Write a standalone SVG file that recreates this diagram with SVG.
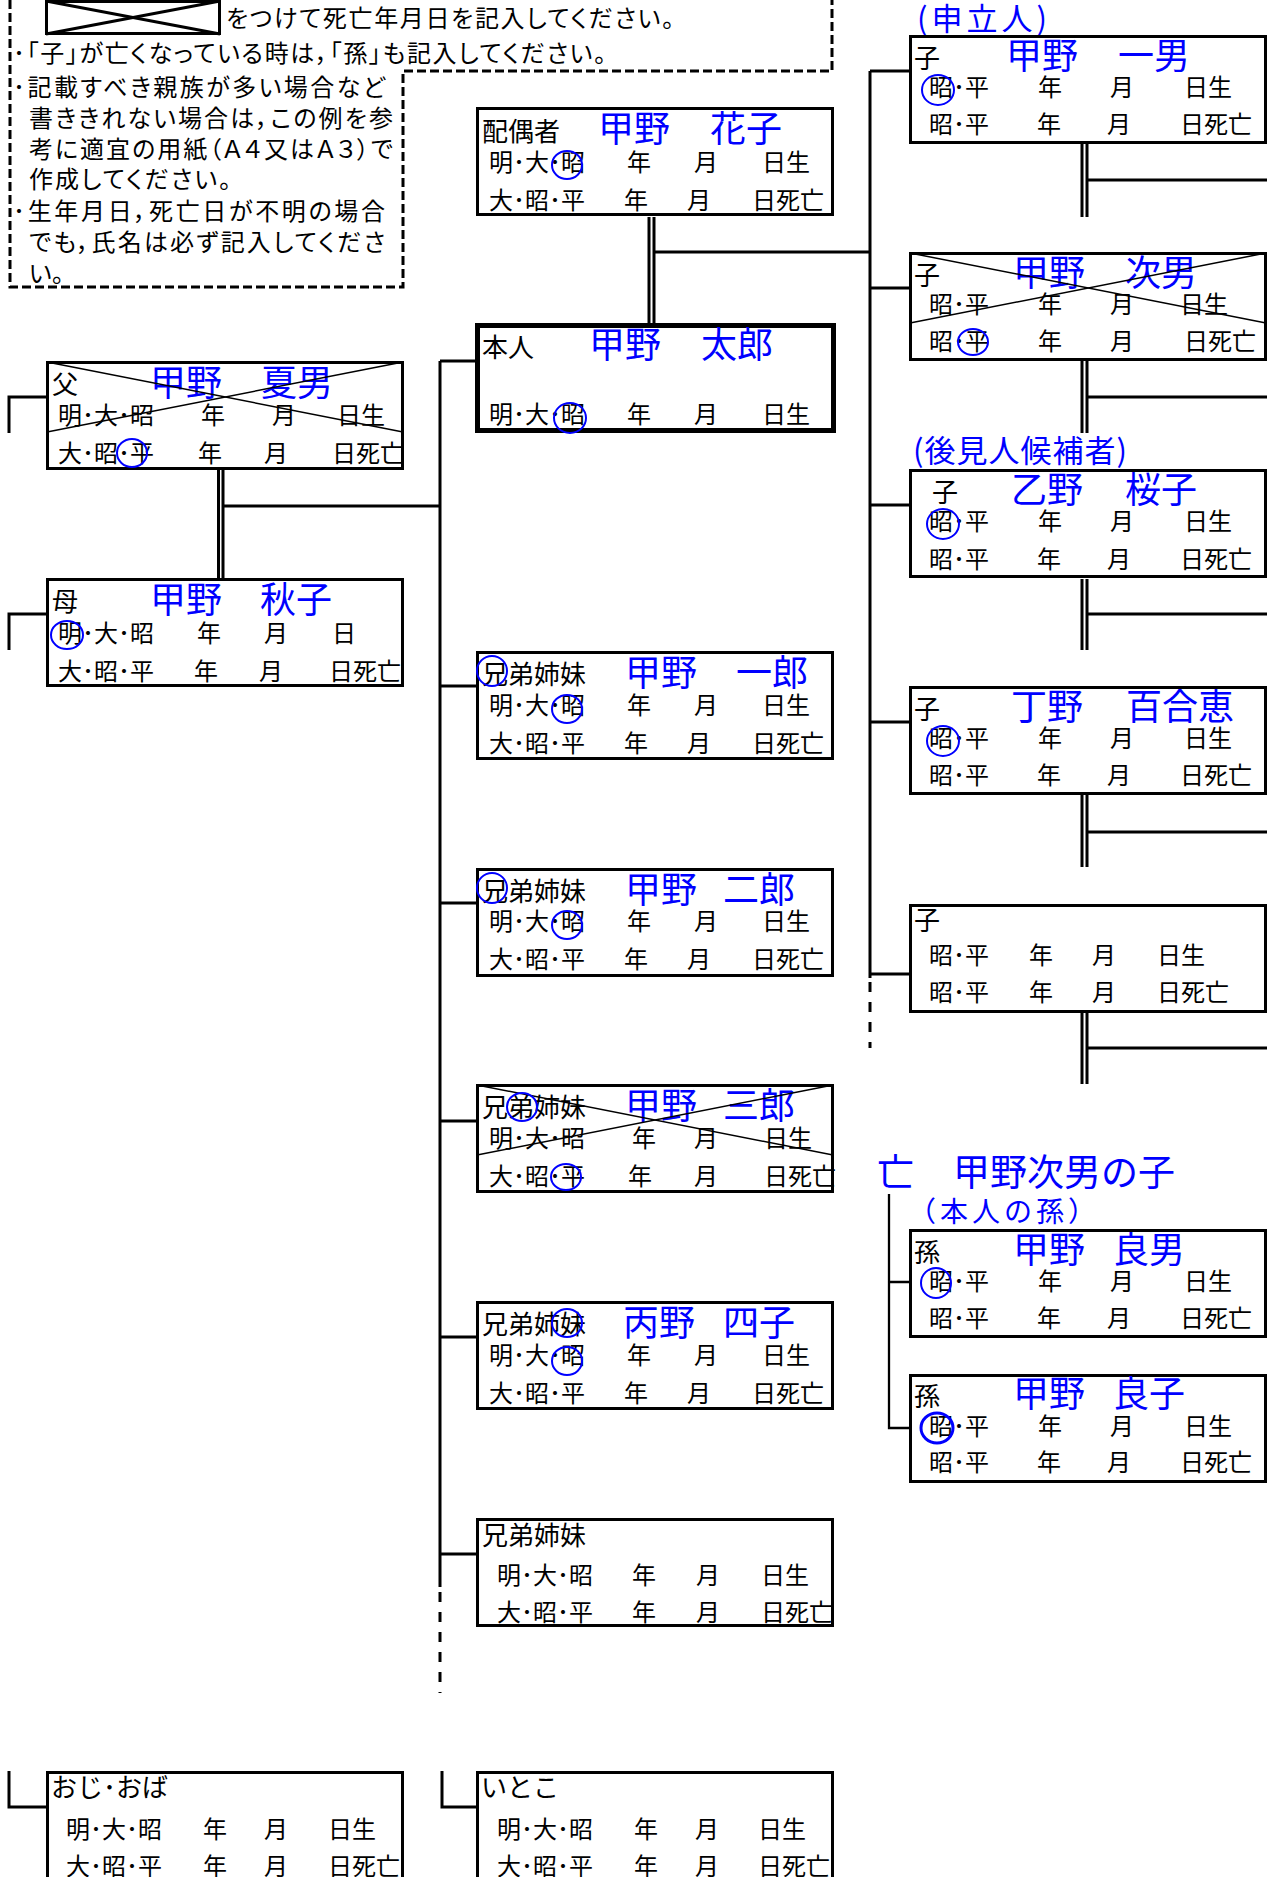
<svg xmlns="http://www.w3.org/2000/svg" width="1273" height="1877" viewBox="0 0 1273 1877">
<style>
text{font-family:"Noto Sans CJK JP","Noto Sans CJK SC",sans-serif;fill:#000}
.lb{font-size:26px}
.nm{font-size:36px;fill:#0000ff}
.rw{font-size:24px}
.nt{font-size:24px;font-feature-settings:"palt"}
.bx{fill:#fff;stroke:#000;stroke-width:3}
.bx5{fill:#fff;stroke:#000;stroke-width:5}
.xl{stroke:#000;stroke-width:1.5}
.cir{fill:none;stroke:#0000ff;stroke-width:2}
.cn{fill:none;stroke:#000;stroke-width:3}
.dsh{fill:none;stroke:#000;stroke-width:3;stroke-dasharray:10 10}
.thin{fill:none;stroke:#000;stroke-width:2.3}
</style>
<rect x="0" y="0" width="1273" height="1877" fill="#fff"/>

<g id="notes">
<path d="M10,0 V287 H403 V71 H832 V0" fill="none" stroke="#000" stroke-width="3" stroke-dasharray="9 4"/>
<rect x="46.5" y="1.5" width="173" height="32" fill="none" stroke="#000" stroke-width="3"/>
<line x1="46" y1="1" x2="220" y2="34" stroke="#000" stroke-width="3"/>
<line x1="46" y1="34" x2="220" y2="1" stroke="#000" stroke-width="3"/>
<text class="nt" x="226" y="27" textLength="448" lengthAdjust="spacing">をつけて死亡年月日を記入してください。</text>
<text class="nt" x="13" y="62" textLength="593" lengthAdjust="spacing">･「子」が亡くなっている時は，「孫」も記入してください。</text>
<text class="nt" x="13" y="96" textLength="372" lengthAdjust="spacing">･記載すべき親族が多い場合など</text>
<text class="nt" x="29" y="127" textLength="364" lengthAdjust="spacing">書ききれない場合は，この例を参</text>
<text class="nt" x="29" y="158" textLength="364" lengthAdjust="spacing">考に適宜の用紙（Ａ４又はＡ３）で</text>
<text class="nt" x="29" y="188" textLength="202" lengthAdjust="spacing">作成してください。</text>
<text class="nt" x="13" y="220" textLength="372" lengthAdjust="spacing">･生年月日，死亡日が不明の場合</text>
<text class="nt" x="29" y="251" textLength="356" lengthAdjust="spacing">でも，氏名は必ず記入してくださ</text>
<text class="nt" x="29" y="282">い。</text>
</g>

<g id="connectors">
<line class="cn" x1="649" y1="217" x2="649" y2="323"/>
<line class="cn" x1="654" y1="217" x2="654" y2="323"/>
<path class="cn" d="M654,252 H870"/>
<path class="cn" d="M870,71 V978"/>
<path class="dsh" d="M870,982 V1048"/>
<path class="cn" d="M870,71 H909 M870,288 H909 M870,505 H909 M870,722 H909 M870,974 H909"/>
<path class="cn" d="M1082,144 V217 M1087,144 V217 M1087,180 H1267"/>
<path class="cn" d="M1082,361 V433 M1087,361 V433 M1087,397 H1267"/>
<path class="cn" d="M1082,579 V650 M1087,579 V650 M1087,614 H1267"/>
<path class="cn" d="M1082,795 V867 M1087,795 V867 M1087,832 H1267"/>
<path class="cn" d="M1082,1012 V1084 M1087,1012 V1084 M1087,1048 H1267"/>
<path class="cn" d="M440,361 V1587"/>
<path class="dsh" d="M440,1592 V1693"/>
<path class="cn" d="M440,361 H476 M440,686 H476 M440,903 H476 M440,1121 H476 M440,1337 H476 M440,1554 H476"/>
<path class="cn" d="M218.5,470 V578 M223,470 V578 M223,506 H440"/>
<path class="cn" d="M9,433 V397 H46 M9,650 V614 H46 M9,1771 V1807 H46 M442,1771 V1807 H476"/>
<path class="thin" d="M889,1194 V1428 H909 M889,1282 H909"/>
</g>

<g id="spouse">
<rect class="bx" x="477.5" y="108.5" width="355" height="106"/>
<text class="lb" x="482" y="141">配偶者</text>
<text class="nm" x="598" y="142">甲野<tspan x="710">花子</tspan></text>
<text class="rw" y="171"><tspan x="489">明･大･昭</tspan><tspan x="627">年</tspan><tspan x="694">月</tspan><tspan x="762">日生</tspan></text>
<text class="rw" y="209"><tspan x="489">大･昭･平</tspan><tspan x="624">年</tspan><tspan x="687">月</tspan><tspan x="752">日死亡</tspan></text>
<ellipse class="cir" cx="567" cy="165" rx="15" ry="14"/>
</g>

<g id="self">
<rect class="bx5" x="477.5" y="325.5" width="356" height="105"/>
<text class="lb" x="482" y="357">本人</text>
<text class="nm" x="589" y="358">甲野<tspan x="701">太郎</tspan></text>
<text class="rw" y="423"><tspan x="489">明･大･昭</tspan><tspan x="627">年</tspan><tspan x="694">月</tspan><tspan x="762">日生</tspan></text>
<ellipse class="cir" cx="570" cy="418" rx="16" ry="15"/>
</g>

<g id="father">
<rect class="bx" x="47.5" y="362.5" width="355" height="106"/>
<text class="lb" x="52" y="394">父</text>
<text class="nm" x="150" y="396">甲野<tspan x="261">夏男</tspan></text>
<text class="rw" y="424"><tspan x="58">明･大･昭</tspan><tspan x="201">年</tspan><tspan x="272">月</tspan><tspan x="337">日生</tspan></text>
<text class="rw" y="462"><tspan x="58">大･昭･平</tspan><tspan x="198">年</tspan><tspan x="264">月</tspan><tspan x="332">日死亡</tspan></text>
<line class="xl" x1="47" y1="362" x2="403" y2="432"/>
<line class="xl" x1="47" y1="432" x2="403" y2="362"/>
<ellipse class="cir" cx="132" cy="453" rx="15" ry="14"/>
</g>

<g id="mother">
<rect class="bx" x="47.5" y="579.5" width="355" height="106"/>
<text class="lb" x="52" y="611">母</text>
<text class="nm" x="150" y="613">甲野<tspan x="260">秋子</tspan></text>
<text class="rw" y="642"><tspan x="58">明･大･昭</tspan><tspan x="197">年</tspan><tspan x="264">月</tspan><tspan x="332">日</tspan></text>
<text class="rw" y="680"><tspan x="58">大･昭･平</tspan><tspan x="194">年</tspan><tspan x="259">月</tspan><tspan x="329">日死亡</tspan></text>
<ellipse class="cir" cx="67" cy="635" rx="16" ry="14"/>
</g>

<g id="sibling1">
<rect class="bx" x="477.5" y="652.5" width="355" height="106"/>
<text class="lb" x="482" y="684">兄弟姉妹</text>
<text class="nm" x="625" y="686">甲野<tspan x="736">一郎</tspan></text>
<text class="rw" y="714"><tspan x="489">明･大･昭</tspan><tspan x="627">年</tspan><tspan x="694">月</tspan><tspan x="762">日生</tspan></text>
<text class="rw" y="752"><tspan x="489">大･昭･平</tspan><tspan x="624">年</tspan><tspan x="687">月</tspan><tspan x="752">日死亡</tspan></text>
<ellipse class="cir" cx="492" cy="671" rx="15" ry="15"/>
<ellipse class="cir" cx="567" cy="709" rx="15" ry="14"/>
</g>

<g id="sibling2">
<rect class="bx" x="477.5" y="869.5" width="355" height="106"/>
<text class="lb" x="482" y="901">兄弟姉妹</text>
<text class="nm" x="625" y="903">甲野<tspan x="723">二郎</tspan></text>
<text class="rw" y="930"><tspan x="489">明･大･昭</tspan><tspan x="627">年</tspan><tspan x="694">月</tspan><tspan x="762">日生</tspan></text>
<text class="rw" y="968"><tspan x="489">大･昭･平</tspan><tspan x="624">年</tspan><tspan x="687">月</tspan><tspan x="752">日死亡</tspan></text>
<ellipse class="cir" cx="492" cy="888" rx="15" ry="15"/>
<ellipse class="cir" cx="567" cy="925" rx="15" ry="14"/>
</g>

<g id="sibling3">
<rect class="bx" x="477.5" y="1085.5" width="355" height="106"/>
<text class="lb" x="482" y="1117">兄弟姉妹</text>
<text class="nm" x="625" y="1119">甲野<tspan x="723">三郎</tspan></text>
<text class="rw" y="1147"><tspan x="489">明･大･昭</tspan><tspan x="632">年</tspan><tspan x="694">月</tspan><tspan x="764">日生</tspan></text>
<text class="rw" y="1185"><tspan x="489">大･昭･平</tspan><tspan x="628">年</tspan><tspan x="694">月</tspan><tspan x="764">日死亡</tspan></text>
<line class="xl" x1="477" y1="1085" x2="833" y2="1155"/>
<line class="xl" x1="477" y1="1155" x2="833" y2="1085"/>
<ellipse class="cir" cx="522" cy="1107" rx="15" ry="14"/>
<ellipse class="cir" cx="566" cy="1177" rx="15" ry="13"/>
</g>

<g id="sibling4">
<rect class="bx" x="477.5" y="1302.5" width="355" height="106"/>
<text class="lb" x="482" y="1334">兄弟姉妹</text>
<text class="nm" x="623" y="1336">丙野<tspan x="723">四子</tspan></text>
<text class="rw" y="1364"><tspan x="489">明･大･昭</tspan><tspan x="627">年</tspan><tspan x="694">月</tspan><tspan x="762">日生</tspan></text>
<text class="rw" y="1402"><tspan x="489">大･昭･平</tspan><tspan x="624">年</tspan><tspan x="687">月</tspan><tspan x="752">日死亡</tspan></text>
<ellipse class="cir" cx="567" cy="1323" rx="15" ry="14"/>
<ellipse class="cir" cx="567" cy="1361" rx="15" ry="14"/>
</g>

<g id="sibling5">
<rect class="bx" x="477.5" y="1519.5" width="355" height="106"/>
<text class="lb" x="482" y="1545">兄弟姉妹</text>
<text class="rw" y="1584"><tspan x="497">明･大･昭</tspan><tspan x="632">年</tspan><tspan x="696">月</tspan><tspan x="761">日生</tspan></text>
<text class="rw" y="1621"><tspan x="497">大･昭･平</tspan><tspan x="632">年</tspan><tspan x="696">月</tspan><tspan x="761">日死亡</tspan></text>
</g>

<g id="child1">
<text class="nm" x="917" y="30" style="font-size:31px" textLength="130" lengthAdjust="spacing">(申立人)</text>
<rect class="bx" x="910.5" y="36.5" width="355" height="106"/>
<text class="lb" x="914" y="68">子</text>
<text class="nm" x="1006" y="69">甲野<tspan x="1118">一男</tspan></text>
<text class="rw" y="96"><tspan x="929">昭･平</tspan><tspan x="1038">年</tspan><tspan x="1110">月</tspan><tspan x="1184">日生</tspan></text>
<text class="rw" y="133"><tspan x="929">昭･平</tspan><tspan x="1037">年</tspan><tspan x="1107">月</tspan><tspan x="1180">日死亡</tspan></text>
<ellipse class="cir" cx="938" cy="90" rx="16" ry="15"/>
</g>

<g id="child2">
<rect class="bx" x="910.5" y="253.5" width="355" height="106"/>
<text class="lb" x="914" y="285">子</text>
<text class="nm" x="1013" y="286">甲野<tspan x="1125">次男</tspan></text>
<text class="rw" y="313"><tspan x="929">昭･平</tspan><tspan x="1038">年</tspan><tspan x="1110">月</tspan><tspan x="1180">日生</tspan></text>
<text class="rw" y="350"><tspan x="929">昭･平</tspan><tspan x="1038">年</tspan><tspan x="1110">月</tspan><tspan x="1184">日死亡</tspan></text>
<line class="xl" x1="910" y1="253" x2="1266" y2="323"/>
<line class="xl" x1="910" y1="323" x2="1266" y2="253"/>
<ellipse class="cir" cx="973" cy="342" rx="15" ry="13"/>
</g>

<g id="child3">
<text class="nm" x="913" y="462" style="font-size:31px" textLength="214" lengthAdjust="spacing">(後見人候補者)</text>
<rect class="bx" x="910.5" y="470.5" width="355" height="106"/>
<text class="lb" x="932" y="502">子</text>
<text class="nm" x="1011" y="503">乙野<tspan x="1125">桜子</tspan></text>
<text class="rw" y="530"><tspan x="929">昭･平</tspan><tspan x="1038">年</tspan><tspan x="1110">月</tspan><tspan x="1184">日生</tspan></text>
<text class="rw" y="568"><tspan x="929">昭･平</tspan><tspan x="1037">年</tspan><tspan x="1107">月</tspan><tspan x="1180">日死亡</tspan></text>
<ellipse class="cir" cx="943" cy="524" rx="16" ry="15"/>
</g>

<g id="child4">
<rect class="bx" x="910.5" y="687.5" width="355" height="106"/>
<text class="lb" x="914" y="719">子</text>
<text class="nm" x="1011" y="720">丁野<tspan x="1126">百合恵</tspan></text>
<text class="rw" y="747"><tspan x="929">昭･平</tspan><tspan x="1038">年</tspan><tspan x="1110">月</tspan><tspan x="1184">日生</tspan></text>
<text class="rw" y="784"><tspan x="929">昭･平</tspan><tspan x="1037">年</tspan><tspan x="1107">月</tspan><tspan x="1180">日死亡</tspan></text>
<ellipse class="cir" cx="943" cy="741" rx="16" ry="15"/>
</g>

<g id="child5">
<rect class="bx" x="910.5" y="905.5" width="355" height="106"/>
<text class="lb" x="914" y="930">子</text>
<text class="rw" y="964"><tspan x="929">昭･平</tspan><tspan x="1029">年</tspan><tspan x="1092">月</tspan><tspan x="1157">日生</tspan></text>
<text class="rw" y="1001"><tspan x="929">昭･平</tspan><tspan x="1029">年</tspan><tspan x="1092">月</tspan><tspan x="1157">日死亡</tspan></text>
</g>

<g id="grandchildren-title">
<text class="nm" x="877" y="1186" style="font-size:37px">亡<tspan x="953">甲野次男の子</tspan></text>
<text class="nm" x="908" y="1222" style="font-size:28px" textLength="188" lengthAdjust="spacing">（本人の孫）</text>
</g>

<g id="grandchild1">
<rect class="bx" x="910.5" y="1230.5" width="355" height="106"/>
<text class="lb" x="914" y="1262">孫</text>
<text class="nm" x="1013" y="1263">甲野<tspan x="1113">良男</tspan></text>
<text class="rw" y="1290"><tspan x="929">昭･平</tspan><tspan x="1038">年</tspan><tspan x="1110">月</tspan><tspan x="1184">日生</tspan></text>
<text class="rw" y="1327"><tspan x="929">昭･平</tspan><tspan x="1037">年</tspan><tspan x="1107">月</tspan><tspan x="1180">日死亡</tspan></text>
<ellipse class="cir" cx="936" cy="1283" rx="15" ry="15"/>
</g>

<g id="grandchild2">
<rect class="bx" x="910.5" y="1375.5" width="355" height="106"/>
<text class="lb" x="914" y="1406">孫</text>
<text class="nm" x="1013" y="1407">甲野<tspan x="1113">良子</tspan></text>
<text class="rw" y="1435"><tspan x="929">昭･平</tspan><tspan x="1038">年</tspan><tspan x="1110">月</tspan><tspan x="1184">日生</tspan></text>
<text class="rw" y="1471"><tspan x="929">昭･平</tspan><tspan x="1037">年</tspan><tspan x="1107">月</tspan><tspan x="1180">日死亡</tspan></text>
<ellipse class="cir" cx="937" cy="1428" rx="16" ry="15" style="stroke-width:3"/>
</g>

<g id="uncle-aunt">
<rect class="bx" x="47.5" y="1772.5" width="355" height="130"/>
<text class="lb" x="51" y="1797">おじ･おば</text>
<text class="rw" y="1838"><tspan x="66">明･大･昭</tspan><tspan x="203">年</tspan><tspan x="264">月</tspan><tspan x="328">日生</tspan></text>
<text class="rw" y="1875"><tspan x="66">大･昭･平</tspan><tspan x="203">年</tspan><tspan x="264">月</tspan><tspan x="328">日死亡</tspan></text>
</g>

<g id="cousin">
<rect class="bx" x="477.5" y="1772.5" width="355" height="130"/>
<text class="lb" x="481" y="1797">いとこ</text>
<text class="rw" y="1838"><tspan x="497">明･大･昭</tspan><tspan x="634">年</tspan><tspan x="695">月</tspan><tspan x="758">日生</tspan></text>
<text class="rw" y="1875"><tspan x="497">大･昭･平</tspan><tspan x="634">年</tspan><tspan x="695">月</tspan><tspan x="758">日死亡</tspan></text>
</g>
</svg>
